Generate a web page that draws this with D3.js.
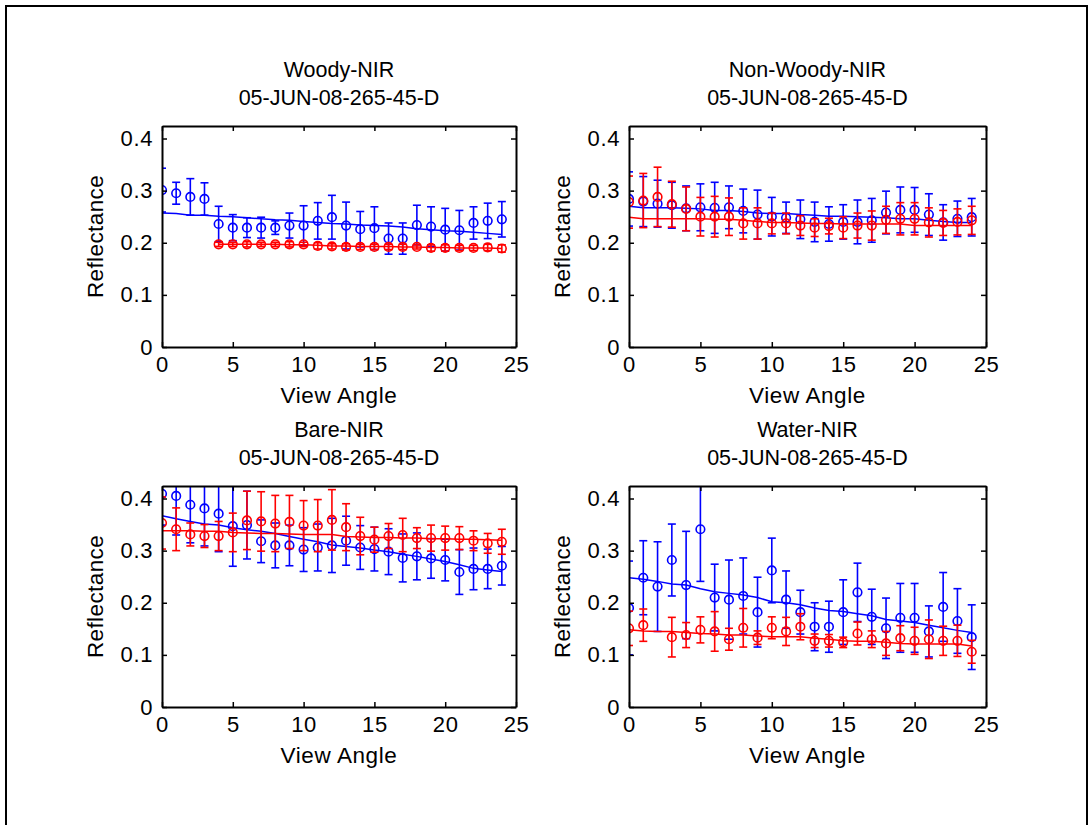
<!DOCTYPE html>
<html>
<head>
<meta charset="utf-8">
<script src="https://cdn.jsdelivr.net/npm/d3@7"></script>
<style>
  body { margin: 0; background: #fff; }
  svg { display: block; }
  text { font-family: Arial, "Liberation Sans", sans-serif; fill: #000; }
</style>
</head>
<body>
<script>
const WIDTH = 1092;
const HEIGHT = 825;

// view angle index (x)
const angles = [0,1,2,3,4,5,6,7,8,9,10,11,12,13,14,15,16,17,18,19,20,21,22,23,24];
const xTicks = [0,5,10,15,20,25];
const yTicks = [0,0.1,0.2,0.3,0.4];
const panelTitles = ["Woody-NIR", "Non-Woody-NIR", "Bare-NIR", "Water-NIR"];
const dateLabel = "05-JUN-08-265-45-D";
const xLabel = "View Angle";
const yLabel = "Reflectance";

// Woody
const woodyBlue    = [0.301,0.295,0.288,0.284,0.236,0.229,0.229,0.229,0.229,0.233,0.233,0.242,0.249,0.233,0.226,0.228,0.208,0.208,0.234,0.231,0.225,0.224,0.238,0.242,0.245];
const woodyBlueErr = [0.042,0.021,0.035,0.031,0.034,0.025,0.019,0.020,0.013,0.024,0.038,0.035,0.042,0.045,0.034,0.041,0.030,0.030,0.038,0.038,0.041,0.038,0.031,0.034,0.034];
const woodyBlueFit = [0.257,0.256,0.253,0.253,0.251,0.250,0.248,0.246,0.244,0.243,0.241,0.239,0.237,0.236,0.234,0.233,0.232,0.230,0.227,0.225,0.223,0.222,0.220,0.218,0.216];
const woodyRed     = [null,null,null,null,0.197,0.197,0.197,0.197,0.197,0.197,0.197,0.194,0.193,0.192,0.192,0.192,0.192,0.192,0.192,0.190,0.190,0.190,0.190,0.191,0.189];
const woodyRedErr  = [null,null,null,null,0.004,0.004,0.005,0.004,0.004,0.005,0.004,0.006,0.005,0.006,0.005,0.005,0.005,0.005,0.004,0.006,0.006,0.005,0.005,0.006,0.007];
const woodyRedFit  = [null,null,null,null,0.197,0.197,0.197,0.197,0.197,0.196,0.196,0.195,0.194,0.194,0.193,0.193,0.193,0.192,0.192,0.191,0.191,0.190,0.190,0.190,0.189];

// Non-Woody
const nonWoodyBlue    = [0.284,0.279,0.275,0.272,0.266,0.268,0.267,0.268,0.261,0.254,0.250,0.248,0.245,0.240,0.236,0.240,0.240,0.243,0.258,0.263,0.263,0.254,0.239,0.246,0.249];
const nonWoodyBlueErr = [0.052,0.048,0.045,0.044,0.043,0.045,0.049,0.041,0.042,0.047,0.037,0.030,0.037,0.038,0.033,0.033,0.042,0.042,0.041,0.044,0.043,0.040,0.034,0.034,0.036];
const nonWoodyBlueFit = [0.270,0.267,0.267,0.267,0.266,0.265,0.262,0.262,0.260,0.257,0.256,0.256,0.254,0.253,0.251,0.251,0.250,0.249,0.248,0.246,0.246,0.243,0.241,0.239,0.239];
const nonWoodyRed     = [0.278,0.281,0.288,0.274,0.265,0.250,0.250,0.250,0.237,0.237,0.237,0.237,0.233,0.229,0.232,0.229,0.233,0.233,0.244,0.246,0.246,0.239,0.238,0.240,0.243];
const nonWoodyRedErr  = [0.050,0.052,0.057,0.044,0.042,0.037,0.039,0.036,0.030,0.030,0.020,0.020,0.019,0.017,0.015,0.021,0.024,0.028,0.026,0.031,0.031,0.028,0.024,0.025,0.027];
const nonWoodyRedFit  = [0.249,0.246,0.246,0.246,0.246,0.246,0.245,0.245,0.243,0.241,0.239,0.239,0.238,0.237,0.237,0.236,0.236,0.236,0.236,0.236,0.233,0.233,0.233,0.233,0.233];

// Bare
const bareBlue    = [0.409,0.405,0.388,0.381,0.371,0.347,0.349,0.318,0.310,0.310,0.302,0.306,0.310,0.319,0.306,0.303,0.298,0.286,0.289,0.285,0.282,0.259,0.265,0.265,0.271];
const bareBlueErr = [0.060,0.075,0.073,0.072,0.073,0.077,0.065,0.041,0.043,0.039,0.042,0.045,0.052,0.047,0.042,0.042,0.044,0.046,0.045,0.038,0.040,0.043,0.040,0.038,0.037];
const bareBlueFit = [0.367,0.361,0.356,0.351,0.349,0.344,0.340,0.337,0.333,0.327,0.322,0.317,0.311,0.308,0.305,0.301,0.298,0.293,0.289,0.284,0.279,0.273,0.266,0.263,0.260];
const bareRed     = [0.353,0.341,0.331,0.328,0.328,0.335,0.358,0.356,0.352,0.355,0.348,0.348,0.359,0.345,0.328,0.321,0.328,0.330,0.324,0.324,0.324,0.324,0.319,0.314,0.317];
const bareRedErr  = [0.050,0.041,0.022,0.022,0.028,0.037,0.056,0.057,0.054,0.051,0.048,0.050,0.058,0.045,0.036,0.024,0.024,0.032,0.020,0.025,0.023,0.022,0.019,0.019,0.024];
const bareRedFit  = [0.338,0.338,0.338,0.337,0.337,0.335,0.334,0.333,0.333,0.332,0.331,0.331,0.331,0.327,0.326,0.325,0.325,0.324,0.324,0.323,0.323,0.322,0.322,0.321,0.320];

// Water
const waterBlue    = [0.190,0.248,0.231,0.282,0.234,0.341,0.210,0.206,0.213,0.182,0.262,0.206,0.182,0.154,0.154,0.182,0.220,0.173,0.151,0.171,0.171,0.145,0.192,0.165,0.134];
const waterBlueErr = [0.090,0.071,0.086,0.069,0.103,0.100,0.064,0.076,0.073,0.067,0.062,0.055,0.042,0.046,0.049,0.062,0.056,0.053,0.058,0.066,0.066,0.049,0.066,0.062,0.062];
const waterBlueFit = [0.248,0.245,0.241,0.236,0.234,0.227,0.221,0.218,0.215,0.210,0.202,0.200,0.196,0.190,0.185,0.183,0.179,0.175,0.168,0.165,0.162,0.157,0.152,0.147,0.143];
const waterRed     = [0.151,0.157,null,0.134,0.138,0.148,0.145,0.130,0.152,0.133,0.152,0.145,0.154,0.127,0.127,0.124,0.141,0.130,0.122,0.132,0.127,0.130,0.127,0.127,0.106];
const waterRedErr  = [0.033,0.031,null,0.038,0.024,0.025,0.038,0.021,0.037,0.013,0.021,0.027,0.025,0.013,0.012,0.010,0.022,0.016,0.023,0.024,0.026,0.037,0.028,0.030,0.022];
const waterRedFit  = [0.148,0.146,0.145,0.145,0.143,0.141,0.140,0.138,0.138,0.136,0.135,0.135,0.135,0.132,0.130,0.127,0.126,0.126,0.124,0.122,0.121,0.121,0.121,0.121,0.117];

// panel boxes (pixels)
const panels = [
    { left: 162, right: 516, top: 126, bottom: 347, blue: [woodyBlue, woodyBlueErr, woodyBlueFit], red: [woodyRed, woodyRedErr, woodyRedFit] },
    { left: 629, right: 986, top: 126, bottom: 347, blue: [nonWoodyBlue, nonWoodyBlueErr, nonWoodyBlueFit], red: [nonWoodyRed, nonWoodyRedErr, nonWoodyRedFit] },
    { left: 162, right: 516, top: 486, bottom: 707, blue: [bareBlue, bareBlueErr, bareBlueFit], red: [bareRed, bareRedErr, bareRedFit] },
    { left: 629, right: 986, top: 486, bottom: 707, blue: [waterBlue, waterBlueErr, waterBlueFit], red: [waterRed, waterRedErr, waterRedFit] }
];

const svg = d3.select("body").append("svg")
    .attr("width", WIDTH)
    .attr("height", HEIGHT);

svg.append("rect").attr("width", WIDTH).attr("height", HEIGHT).attr("fill", "#fff");

// outer figure frame
svg.append("rect")
    .attr("x", 6).attr("y", 6)
    .attr("width", 1081).attr("height", 840)
    .attr("fill", "none").attr("stroke", "#000").attr("stroke-width", 2);

panels.forEach(function (p, k) {
    const x = d3.scaleLinear().domain([0, 25]).range([p.left, p.right]);
    const y = d3.scaleLinear().domain([0, 0.424]).range([p.bottom, p.top]);
    const g = svg.append("g");

    g.append("clipPath").attr("id", "clip" + k)
        .append("rect")
        .attr("x", p.left).attr("y", p.top)
        .attr("width", p.right - p.left).attr("height", p.bottom - p.top);

    const plot = g.append("g").attr("clip-path", "url(#clip" + k + ")");

    // draw blue first, red on top
    [[p.blue, "#0000ff"], [p.red, "#ff0000"]].forEach(function (s) {
        const mean = s[0][0], err = s[0][1], fit = s[0][2], col = s[1];
        const pts = angles.map(function (a, i) { return { a: a, v: mean[i], e: err[i] }; })
            .filter(function (d) { return d.v !== null; });

        const bars = plot.append("g").attr("stroke", col).attr("stroke-width", 1.6).attr("fill", "none");
        pts.forEach(function (d) {
            const cx = x(d.a), lo = y(d.v - d.e), hi = y(d.v + d.e);
            bars.append("line").attr("x1", cx).attr("x2", cx).attr("y1", lo).attr("y2", hi);
            bars.append("line").attr("x1", cx - 4).attr("x2", cx + 4).attr("y1", lo).attr("y2", lo);
            bars.append("line").attr("x1", cx - 4).attr("x2", cx + 4).attr("y1", hi).attr("y2", hi);
        });

        plot.append("g").selectAll("circle").data(pts).join("circle")
            .attr("cx", function (d) { return x(d.a); })
            .attr("cy", function (d) { return y(d.v); })
            .attr("r", 4.3)
            .attr("fill", "none").attr("stroke", col).attr("stroke-width", 1.6);

        const line = d3.line()
            .defined(function (d) { return d.v !== null; })
            .x(function (d) { return x(d.a); })
            .y(function (d) { return y(d.v); });
        plot.append("path")
            .datum(angles.map(function (a, i) { return { a: a, v: fit[i] }; }))
            .attr("d", line)
            .attr("fill", "none").attr("stroke", col).attr("stroke-width", 1.5);
    });

    // axes, ticks inward on all sides
    const tickFmt = function (d) { return d === 0 ? "0" : d3.format(".1f")(d); };
    const bottomAxis = g.append("g").attr("transform", "translate(0," + p.bottom + ")")
        .call(d3.axisBottom(x).tickValues(xTicks).tickSizeInner(-5).tickSizeOuter(0).tickPadding(9));
    const topAxis = g.append("g").attr("transform", "translate(0," + p.top + ")")
        .call(d3.axisTop(x).tickValues(xTicks).tickSizeInner(-5).tickSizeOuter(0).tickFormat(""));
    const leftAxis = g.append("g").attr("transform", "translate(" + p.left + ",0)")
        .call(d3.axisLeft(y).tickValues(yTicks).tickSizeInner(-5).tickSizeOuter(0).tickPadding(9).tickFormat(tickFmt));
    const rightAxis = g.append("g").attr("transform", "translate(" + p.right + ",0)")
        .call(d3.axisRight(y).tickValues(yTicks).tickSizeInner(-5).tickSizeOuter(0).tickFormat(""));

    [bottomAxis, topAxis, leftAxis, rightAxis].forEach(function (a) {
        a.select(".domain").attr("stroke", "#000").attr("stroke-width", 2);
        a.selectAll(".tick line").attr("stroke", "#000").attr("stroke-width", 1.5);
        a.selectAll("text").attr("font-size", 22).attr("letter-spacing", 0.6)
            .attr("font-family", "Arial, 'Liberation Sans', sans-serif").attr("fill", "#000");
    });

    const cx = (p.left + p.right) / 2;
    const cy = (p.top + p.bottom) / 2;

    g.append("text").attr("x", cx).attr("y", p.top - 49)
        .attr("text-anchor", "middle").attr("font-size", 21.5).text(panelTitles[k]);
    g.append("text").attr("x", cx).attr("y", p.top - 21)
        .attr("text-anchor", "middle").attr("font-size", 21.5).text(dateLabel);

    g.append("text").attr("x", cx).attr("y", p.bottom + 56)
        .attr("text-anchor", "middle").attr("font-size", 22.5).attr("letter-spacing", 0.6).text(xLabel);

    g.append("text")
        .attr("transform", "translate(" + (p.left - 59) + "," + cy + ") rotate(-90)")
        .attr("text-anchor", "middle").attr("font-size", 22.5).attr("letter-spacing", 0.4).text(yLabel);
});
</script>
</body>
</html>
